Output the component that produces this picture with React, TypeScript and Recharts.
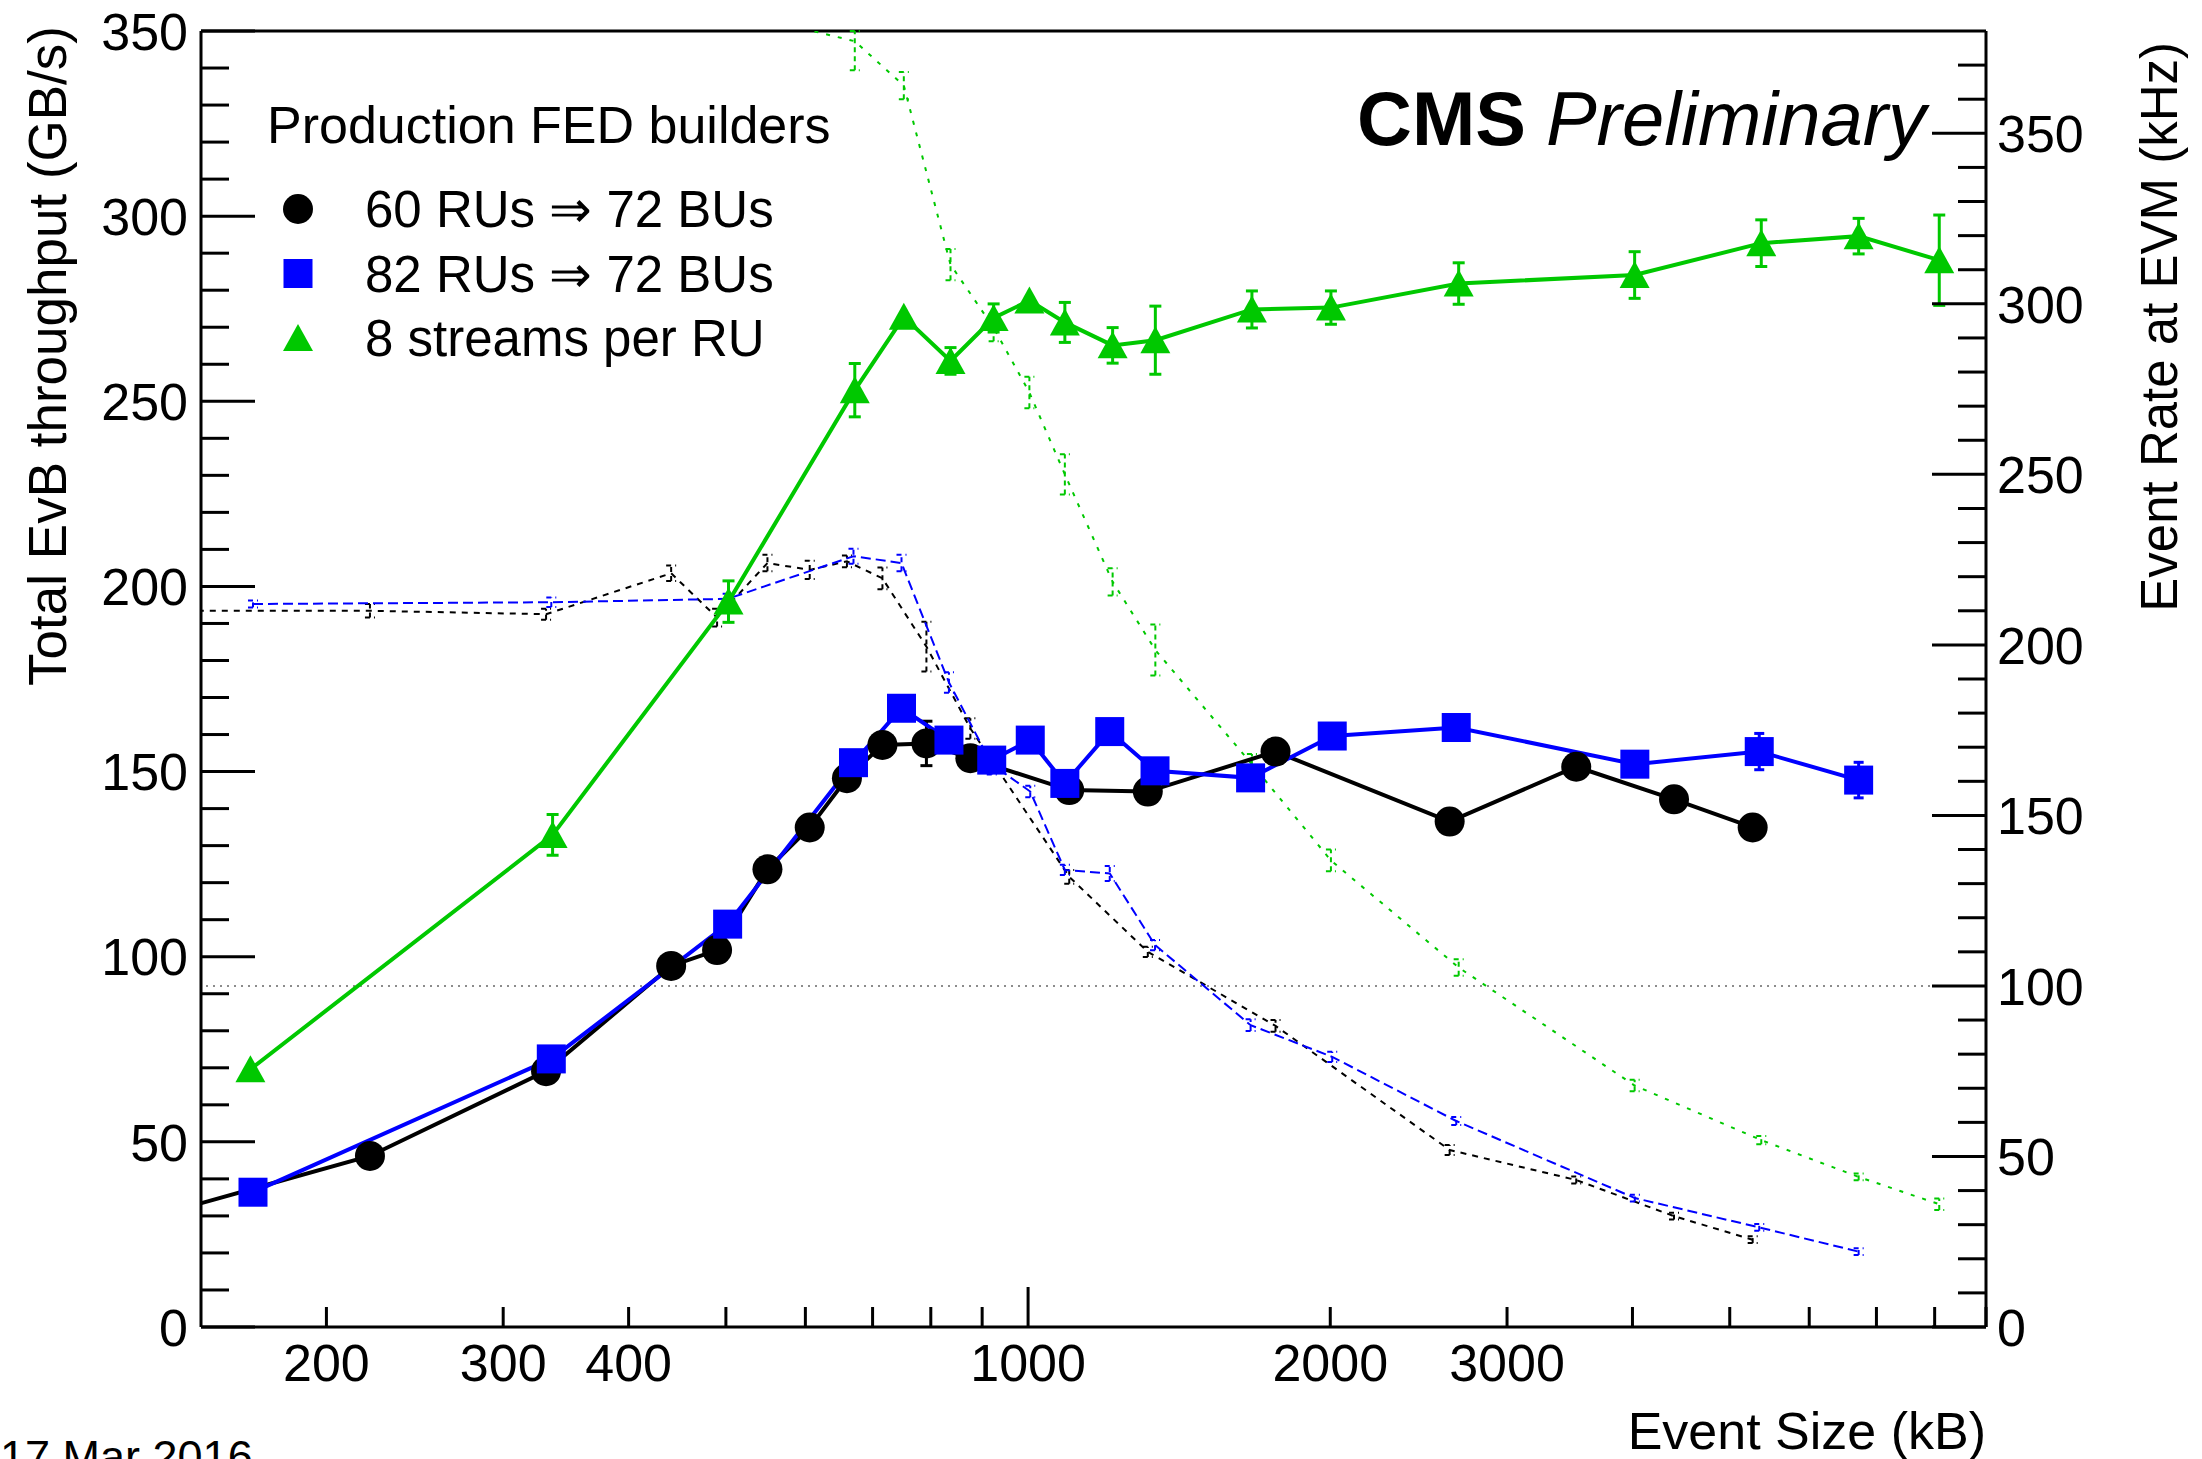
import React from 'react'
import {
  ComposedChart, Line, XAxis, YAxis, ErrorBar, ReferenceLine, Legend, Label,
} from 'recharts'

const FONT = '"Liberation Sans", Arial, Helvetica, sans-serif'
const BLACK = '#000000'
const BLUE = '#0000ff'
const GREEN = '#00c800'

// 60 RUs => 72 BUs : event size (kB), throughput (GB/s), event rate (kHz)
const size60 = [110, 221, 331, 441, 490, 550, 606, 660, 716, 792, 876, 1099, 1316, 1764, 2630, 3516, 4400, 5270]
const thr60 = [23.2, 46.2, 69.1, 97.5, 101.8, 123.6, 134.9, 148.2, 157.2, 157.6, 153.6, 145.0, 144.6, 155.4, 136.5, 151.3, 142.5, 134.9]
const thr60Err = [0, 0, 0, 0, 0, 0, 0, 0, 0, 6, 0, 0, 0, 0, 0, 0, 0, 0]
const rate60 = [210, 210, 209, 221, 208, 224, 222, 224.5, 219.5, 199.5, 175.5, 132, 110, 88.3, 51.9, 43.1, 32.5, 25.6]
const rate60Err = [0, 2, 1.6, 2.3, 2.6, 2.4, 2.7, 1.7, 3.2, 7.3, 3, 2, 1.5, 1.7, 1.5, 1, 1, 1]

// 82 RUs => 72 BUs
const size82 = [169, 335, 502, 670, 748, 834, 920, 1005, 1088, 1206, 1338, 1666, 2009, 2670, 4022, 5350, 6720]
const thr82 = [36.4, 72.4, 108.8, 152.4, 167.1, 158.5, 153.1, 158.5, 146.8, 160.8, 150.2, 148.3, 159.6, 161.9, 152.0, 155.4, 147.7]
const thr82Err = [0, 0, 0, 0, 0, 0, 0, 0, 0, 0, 0, 0, 0, 0, 0, 4.9, 4.8]
const rate82 = [212, 212.5, 213.5, 226, 224, 189, 165, 157, 134, 133, 112, 88.5, 79.2, 60.4, 37.8, 29.2, 22.1]
const rate82Err = [1, 1.4, 1.5, 2.2, 2.4, 3, 3, 1.7, 1.5, 2.2, 1.5, 1.7, 1.5, 1.2, 1, 1, 1]

// 8 streams per RU (first three rates sit above the frame)
const size8s = [168, 336, 503, 672, 752, 837, 924, 1003, 1088, 1214, 1339, 1671, 2003, 2685, 4020, 5375, 6720, 8085]
const thr8s = [69.6, 132.9, 195.9, 253.0, 272.8, 260.9, 272.5, 277.2, 271.3, 265.1, 266.5, 274.8, 275.3, 281.8, 284.1, 292.7, 294.6, 288.1]
const thr8sErr = [0, 5.5, 5.6, 7.2, 0, 3.6, 3.8, 0, 5.4, 4.8, 9.2, 5.0, 4.5, 5.6, 6.3, 6.3, 4.8, 12.2]
const rate8s = [414, 396, 386, 377, 364, 311.5, 293, 274, 250, 218.5, 198.5, 165, 136.8, 105.4, 70.8, 54.8, 44, 36]
const rate8sErr: (number | number[])[] = [0, 0, 0, [8.5, 3], 4, 4.6, 4, 4.6, 5.9, 4, 7.5, 3, 3.2, 2.4, 1.7, 1.2, 1, 1.7]

// axes
const sizeTicks = [200, 300, 400, 500, 600, 700, 800, 900, 1000, 2000, 3000, 4000, 5000, 6000, 7000, 8000, 9000]
const sizeLabels = [200, 300, 400, 1000, 2000, 3000]
const thrLabels = [0, 50, 100, 150, 200, 250, 300, 350]
const rateLabels = [0, 50, 100, 150, 200, 250, 300, 350]
const thrTicks = Array.from({ length: 36 }, (_, i) => i * 10)
const rateTicks = Array.from({ length: 38 }, (_, i) => i * 10)

const rows = (xs: number[], ys: number[], es: (number | number[])[]) =>
  xs.map((x, i) => ({ x, y: ys[i], e: es[i] }))

const legendEntries = [
  { label: '60 RUs \u21d2 72 BUs', shape: 'circle', color: BLACK },
  { label: '82 RUs \u21d2 72 BUs', shape: 'square', color: BLUE },
  { label: '8 streams per RU', shape: 'triangle', color: GREEN },
]

const LABEL_GAP_Y = 13
const LABEL_GAP_R = 11
const TICK_FONT = 52

function marker(shape: string, cx: number, cy: number, color: string, key?: string) {
  if (shape === 'circle') return <circle key={key} cx={cx} cy={cy} r={15} fill={color} />
  if (shape === 'square') return <rect key={key} x={cx - 14.5} y={cy - 14.5} width={29} height={29} fill={color} />
  return (
    <polygon
      key={key}
      points={`${cx - 15},${cy + 13} ${cx + 15},${cy + 13} ${cx},${cy - 14}`}
      fill={color}
    />
  )
}

const dotOf = (shape: string, color: string) => (p: any) =>
  p.cx == null ? <g key={`d-${p.index}`} /> : marker(shape, p.cx, p.cy, color, `d-${p.index}`)

// ticks point into the frame, labels only on the major values
function leftTick(p: any) {
  const v = p.payload.value
  const major = thrLabels.includes(v)
  const ax = p.x + LABEL_GAP_Y
  return (
    <g key={`lt-${v}`}>
      <line x1={ax} x2={ax + (major ? 54 : 28)} y1={p.y} y2={p.y} stroke={BLACK} strokeWidth={3} />
      {major && (
        <text x={p.x} y={p.y} dy="0.36em" textAnchor="end" fontSize={TICK_FONT} fontFamily={FONT} fill={BLACK}>
          {v}
        </text>
      )}
    </g>
  )
}

function rightTick(p: any) {
  const v = p.payload.value
  const major = rateLabels.includes(v)
  const ax = p.x - LABEL_GAP_R
  return (
    <g key={`rt-${v}`}>
      <line x1={ax} x2={ax - (major ? 54 : 28)} y1={p.y} y2={p.y} stroke={BLACK} strokeWidth={3} />
      {major && (
        <text x={p.x} y={p.y} dy="0.36em" textAnchor="start" fontSize={TICK_FONT} fontFamily={FONT} fill={BLACK}>
          {v}
        </text>
      )}
    </g>
  )
}

function sizeTick(p: any) {
  const v = p.payload.value
  const len = v === 1000 ? 40 : 20
  return (
    <g key={`xt-${v}`}>
      <line x1={p.x} x2={p.x} y1={p.y} y2={p.y - len} stroke={BLACK} strokeWidth={3} />
      {sizeLabels.includes(v) && (
        <text x={p.x} y={p.y + 54} textAnchor="middle" fontSize={TICK_FONT} fontFamily={FONT} fill={BLACK}>
          {v}
        </text>
      )}
    </g>
  )
}

function xTitle(p: any) {
  const vb = p.viewBox
  return (
    <g>
      <text x={vb.x + vb.width} y={vb.y + 122} textAnchor="end" fontSize={52} fontFamily={FONT} fill={BLACK}>
        Event Size (kB)
      </text>
      <text x={0} y={1472} fontSize={45} fontFamily={FONT} fill={BLACK}>17 Mar 2016</text>
    </g>
  )
}

function leftTitle(p: any) {
  const vb = p.viewBox
  return (
    <text
      transform={`translate(${vb.x + 15},${vb.y - 5}) rotate(-90)`}
      textAnchor="end" fontSize={53} fontFamily={FONT} fill={BLACK}
    >
      Total EvB throughput (GB/s)
    </text>
  )
}

function rightTitle(p: any) {
  const vb = p.viewBox
  return (
    <text
      transform={`translate(${vb.x + 191},${vb.y + 11}) rotate(-90)`}
      textAnchor="end" fontSize={51} fontFamily={FONT} fill={BLACK}
    >
      Event Rate at EVM (kHz)
    </text>
  )
}

function renderLegend() {
  return (
    <svg width={640} height={290} style={{ display: 'block' }}>
      <text x={27} y={53} fontSize={52} fontFamily={FONT} fill={BLACK}>Production FED builders</text>
      {legendEntries.map((e, i) => {
        const cy = 119 + i * 64.5
        return (
          <g key={e.label}>
            {marker(e.shape, 58, cy, e.color)}
            <text x={125} y={cy + 18} fontSize={51} fontFamily={FONT} fill={BLACK}>{e.label}</text>
          </g>
        )
      })}
    </svg>
  )
}

export default function App() {
  return (
    <div style={{ position: 'absolute', left: 0, top: 0, width: 2202, height: 1459, background: '#fff', overflow: 'hidden' }}>
      <ComposedChart width={2202} height={1459} margin={{ top: 31, right: 46, bottom: 32, left: 51 }}>
        <XAxis
          dataKey="x" type="number" scale="log" domain={[150, 9000]} allowDataOverflow
          ticks={sizeTicks} interval={0} tick={sizeTick} tickLine={false} tickSize={0} tickMargin={0}
          height={100} axisLine={{ stroke: BLACK, strokeWidth: 3 }}
        >
          <Label content={xTitle} />
        </XAxis>
        <YAxis
          yAxisId="thr" orientation="left" type="number" domain={[0, 350]} allowDataOverflow
          ticks={thrTicks} interval={0} tick={leftTick} tickLine={false} tickSize={0} tickMargin={LABEL_GAP_Y}
          width={150} axisLine={{ stroke: BLACK, strokeWidth: 3 }}
        >
          <Label content={leftTitle} />
        </YAxis>
        <YAxis
          yAxisId="rate" orientation="right" type="number" domain={[0, 380]} allowDataOverflow
          ticks={rateTicks} interval={0} tick={rightTick} tickLine={false} tickSize={0} tickMargin={LABEL_GAP_R}
          width={170} axisLine={{ stroke: BLACK, strokeWidth: 3 }}
        >
          <Label content={rightTitle} />
        </YAxis>

        <ReferenceLine yAxisId="thr" y={350} stroke={BLACK} strokeWidth={3} />
        <ReferenceLine yAxisId="rate" y={100} stroke="#8c8c8c" strokeWidth={2} strokeDasharray="2 5" />

        {/* event rates, right axis */}
        <Line
          yAxisId="rate" data={rows(size60, rate60, rate60Err)} dataKey="y" type="linear"
          stroke={BLACK} strokeWidth={2} strokeDasharray="6 6" dot={false} activeDot={false}
          legendType="none" isAnimationActive={false}
        >
          <ErrorBar dataKey="e" direction="y" width={5} stroke={BLACK} strokeWidth={2} strokeDasharray="5 4" isAnimationActive={false} />
        </Line>
        <Line
          yAxisId="rate" data={rows(size82, rate82, rate82Err)} dataKey="y" type="linear"
          stroke={BLUE} strokeWidth={2} strokeDasharray="10 5" dot={false} activeDot={false}
          legendType="none" isAnimationActive={false}
        >
          <ErrorBar dataKey="e" direction="y" width={5} stroke={BLUE} strokeWidth={2} strokeDasharray="5 4" isAnimationActive={false} />
        </Line>
        <Line
          yAxisId="rate" data={rows(size8s, rate8s, rate8sErr)} dataKey="y" type="linear"
          stroke={GREEN} strokeWidth={2} strokeDasharray="4 8" dot={false} activeDot={false}
          legendType="none" isAnimationActive={false}
        >
          <ErrorBar dataKey="e" direction="y" width={5} stroke={GREEN} strokeWidth={2} strokeDasharray="5 4" isAnimationActive={false} />
        </Line>

        {/* throughput, left axis */}
        <Line
          yAxisId="thr" data={rows(size60, thr60, thr60Err)} dataKey="y" name={legendEntries[0].label}
          type="linear" stroke={BLACK} strokeWidth={4} dot={dotOf('circle', BLACK)} activeDot={false}
          isAnimationActive={false}
        >
          <ErrorBar dataKey="e" direction="y" width={6} stroke={BLACK} strokeWidth={3} isAnimationActive={false} />
        </Line>
        <Line
          yAxisId="thr" data={rows(size82, thr82, thr82Err)} dataKey="y" name={legendEntries[1].label}
          type="linear" stroke={BLUE} strokeWidth={4} dot={dotOf('square', BLUE)} activeDot={false}
          isAnimationActive={false}
        >
          <ErrorBar dataKey="e" direction="y" width={5} stroke={BLUE} strokeWidth={3} isAnimationActive={false} />
        </Line>
        <Line
          yAxisId="thr" data={rows(size8s, thr8s, thr8sErr)} dataKey="y" name={legendEntries[2].label}
          type="linear" stroke={GREEN} strokeWidth={4} dot={dotOf('triangle', GREEN)} activeDot={false}
          isAnimationActive={false}
        >
          <ErrorBar dataKey="e" direction="y" width={6} stroke={GREEN} strokeWidth={3} isAnimationActive={false} />
        </Line>

        <Legend
          layout="vertical" align="center" verticalAlign="middle"
          content={renderLegend} wrapperStyle={{ left: 240, top: 90, width: 640, height: 290 }}
        />

        <text x={1926} y={145} textAnchor="end" fontSize={76} fontFamily={FONT} fill={BLACK}>
          <tspan fontWeight="bold">CMS</tspan>
          <tspan dx={20} fontStyle="italic">Preliminary</tspan>
        </text>
      </ComposedChart>
    </div>
  )
}
